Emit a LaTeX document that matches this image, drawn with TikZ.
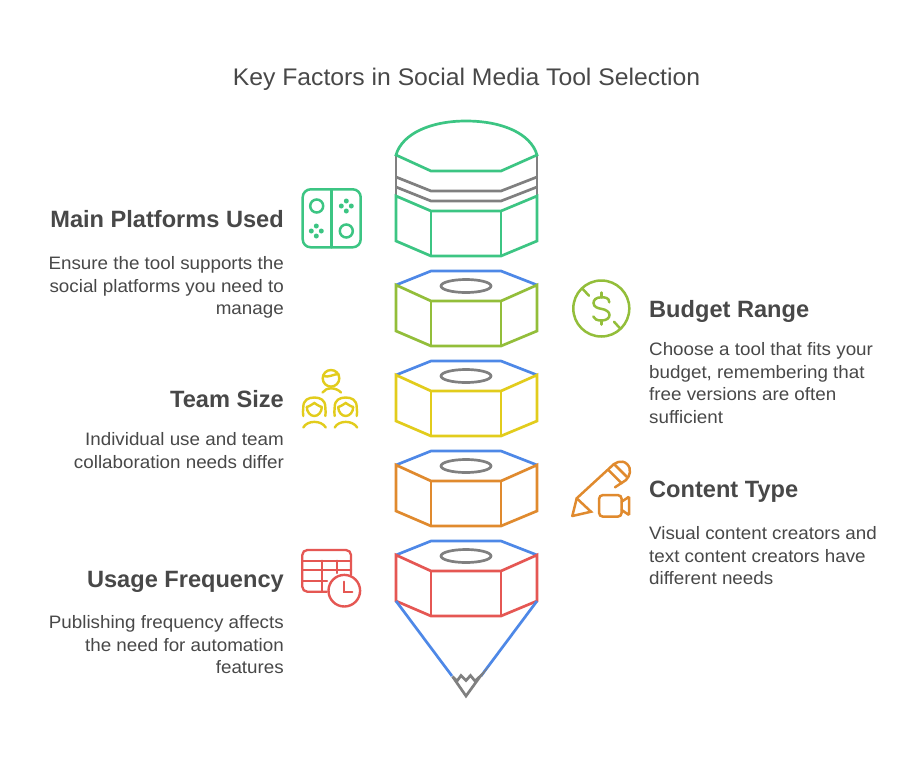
\documentclass[tikz,border=0pt]{standalone}
\usepackage{fontspec}
\setmainfont{Liberation Sans}
\newfontfamily\stretchfont[FakeStretch=1.045]{Liberation Sans}
\newfontfamily\titlefont[FakeStretch=1.03]{Liberation Sans}
\definecolor{cgreen}{HTML}{3CC583}
\definecolor{cblue}{HTML}{4E88E7}
\definecolor{colive}{HTML}{93BE3A}
\definecolor{cyellow}{HTML}{E2CC1C}
\definecolor{corange}{HTML}{E08A2E}
\definecolor{cred}{HTML}{E55753}
\definecolor{cgray}{HTML}{808080}
\definecolor{ink}{HTML}{484848}
\tikzset{
  x=1pt,y=-1pt,
  line join=round,
  part/.style={line width=2.7pt},
  icon/.style={line width=2.5pt,line cap=round},
  head/.style={font=\fontsize{23.6}{28}\selectfont\bfseries,text=ink,inner sep=0pt},
  body/.style={font=\stretchfont\fontsize{18}{22.6}\selectfont,text=ink,inner sep=0pt},
  rbody/.style={body,align=right,anchor=north east},
  lbody/.style={body,align=left,anchor=north west},
}
\newcommand{\nutblock}[2]{%
  \begin{scope}[shift={(0,#1)}]
    \draw[part,cblue] (396,285)--(431,271)--(501,271)--(537,285);
    \draw[part,cgray] (466,286) ellipse [x radius=25,y radius=6.5];
    \draw[part,#2] (396,285)--(431,301)--(501,301)--(537,285)--(537,331)--(501,346)--(431,346)--(396,331)--cycle;
    \draw[part,#2] (431,301)--(431,346) (501,301)--(501,346);
  \end{scope}}
\begin{document}
\begin{tikzpicture}
\useasboundingbox (0,0) rectangle (918,758);
\fill[white] (0,0) rectangle (918,758);
\node[font=\titlefont\fontsize{24}{28}\selectfont,text=ink,inner sep=0pt,anchor=base] (title) at (466.5,85) {Key Factors in Social Media Tool Selection};
% top cap
\draw[part,cgray] (396,155)--(396,196) (537,155)--(537,196);
\draw[part,cgray] (396,177)--(431,191)--(501,191)--(537,177);
\draw[part,cgray] (396,187)--(431,201)--(501,201)--(537,187);
\draw[part,cgreen] (396,155) .. controls (402,134) and (430,121) .. (466,121) .. controls (503,121) and (531,134) .. (537,155)--(501,171)--(431,171)--cycle;
\draw[part,cgreen] (396,196)--(431,211)--(501,211)--(537,196)--(537,241)--(501,256)--(431,256)--(396,241)--cycle;
\draw[part,cgreen] (431,211)--(431,256) (501,211)--(501,256);
\nutblock{0}{colive}
\nutblock{90}{cyellow}
\nutblock{180}{corange}
\nutblock{270}{cred}
% cone
\draw[part,cblue] (396,601)--(452,676) (537,601)--(481,676);
\draw[part,cgray] (452.5,676.5)--(466,696)--(480.5,676)--(475,681)--(470.5,675.5)--(466,680.5)--(461,675.5)--(457,681)--cycle;
% controller
\begin{scope}[icon,cgreen]
\draw[rounded corners=8pt] (302.7,189.3) rectangle (360.7,247.3);
\draw (331.7,189.3)--(331.7,247.3);
\draw (316.7,206) circle (6.5) (346.3,231) circle (6.5);
\foreach \cx/\cy in {346.3/206,316.3/231}{
  \fill (\cx-5,\cy) circle (2.5) (\cx+5,\cy) circle (2.5) (\cx,\cy-5) circle (2.5) (\cx,\cy+5) circle (2.5);}
\end{scope}
% team
\begin{scope}[icon,cyellow,line width=2.4pt]
\draw (331,378.3) circle (8.3);
\draw (323.5,376) .. controls (328,378) and (334,374) .. (338.5,374);
\draw (322.5,392.5) .. controls (326,387) and (336,387) .. (341,392.5);
\foreach \dx in {314.3,345.7}{
  \begin{scope}[shift={(\dx,0)}]
  \draw (-11,416) .. controls (-12,413) and (-11,411) .. (-11,407) .. controls (-11,400) and (-6,397.5) .. (0,397.5) .. controls (6,397.5) and (11,400) .. (11,407) .. controls (11,411) and (12,413) .. (11,416);
  \draw (-7.5,407) .. controls (-4,406) and (-2,404) .. (0,403) .. controls (2,404) and (4,406) .. (7.5,407);
  \draw (-7.5,407) .. controls (-7.5,412) and (-4,416) .. (0,416) .. controls (4,416) and (7.5,412) .. (7.5,407);
  \draw (-11,427.5) .. controls (-7,420) and (7,420) .. (11.5,427.5);
  \end{scope}}
\end{scope}
% calendar + clock
\begin{scope}[icon,cred,line width=2.3pt]
\draw[rounded corners=5pt] (351,575)--(351,550)--(302.3,550)--(302.3,591.7)--(326.7,591.7);
\draw (302.3,560.7)--(351,560.7) (302.3,570)--(351,570) (302.3,580.7)--(327,580.7);
\draw (322.3,560.7)--(322.3,591.7) (336.7,560.7)--(336.7,573);
\draw[line width=2.4pt] (344.3,590.7) circle (15.8);
\draw (344.3,581.7)--(344.3,591.7)--(352.3,591.7);
\end{scope}
% dollar
\begin{scope}[icon,colive]
\draw (601.3,308.5) circle (28);
\draw (582.3,288.5)--(589,295.7) (614,321.7)--(620,328.3);
\draw (609.3,302.3) .. controls (609,297.5) and (605,297.3) .. (601.3,297.3) .. controls (596,297.3) and (593.5,300) .. (593.5,303) .. controls (593.5,307) and (598,308.3) .. (601.3,308.8) .. controls (606,309.5) and (609.5,312) .. (609.5,315) .. controls (609.5,318.5) and (606,320.5) .. (601.3,320.5) .. controls (597,320.5) and (594,319) .. (593.3,316.5);
\draw (601.3,292.5)--(601.3,297.3) (601.3,320.5)--(601.3,324.5);
\end{scope}
% pencil + camera
\begin{scope}[icon,corange]
\draw (572.3,516)--(576.7,498.3)--(610,467.7) .. controls (614,462.5) and (622,459) .. (627,464) .. controls (632,469) and (630,476) .. (626,480)--(615,487.3);
\draw (572.3,516)--(591,511.7)--(576.7,498.3);
\draw (608.3,470)--(621.7,483.3) (614.3,464.3)--(626.7,476.7);
\draw[rounded corners=4pt] (599,495)--(621.7,495)--(621.7,516.7)--(599,516.7)--cycle;
\draw[rounded corners=1pt] (621.7,501.7)--(629,496.7)--(629,515)--(621.7,510);
\end{scope}
% labels
\node[head,anchor=base east] (h1) at (284,227) {Main Platforms Used};
\node[rbody] (b1) at (284,256.5) {Ensure the tool supports the\\social platforms you need to\\manage};
\node[head,anchor=base east] (h2) at (284,407) {Team Size};
\node[rbody] (b2) at (284,432.5) {Individual use and team\\collaboration needs differ};
\node[head,anchor=base east] (h3) at (284,587) {Usage Frequency};
\node[rbody] (b3) at (284,615.5) {Publishing frequency affects\\the need for automation\\features};
\node[head,anchor=base west] (h4) at (649,317) {Budget Range};
\node[lbody] (b4) at (649,342.5) {Choose a tool that fits your\\budget, remembering that\\free versions are often\\sufficient};
\node[head,anchor=base west] (h5) at (649,497) {Content Type};
\node[lbody] (b5) at (649,526.5) {Visual content creators and\\text content creators have\\different needs};
\end{tikzpicture}
\end{document}
